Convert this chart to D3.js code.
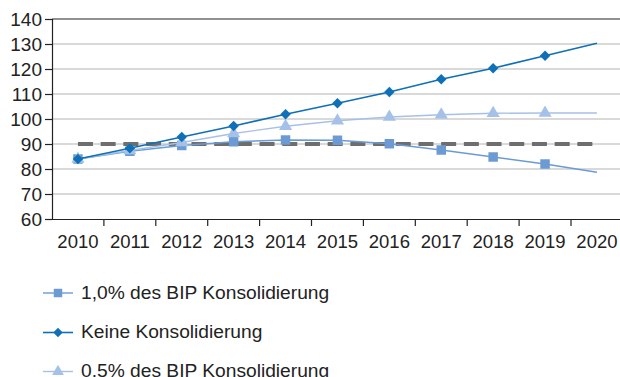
<!DOCTYPE html>
<html>
<head>
<meta charset="utf-8">
<script src="https://cdn.jsdelivr.net/npm/d3@7"></script>
<style>
  html, body { margin: 0; padding: 0; background: #fff; }
  svg { display: block; font-family: "Liberation Sans", Arial, Helvetica, sans-serif; }
</style>
</head>
<body>
<svg id="chart" width="620" height="377"></svg>
<script>
// Schuldenquote in % des BIP, 2010–2020
const years = ["2010","2011","2012","2013","2014","2015","2016","2017","2018","2019","2020"];
const keineKons = [84, 88.3, 92.8, 97.2, 101.9, 106.3, 110.8, 115.9, 120.3, 125.3, 130.3];
const kons10 = [84, 87.1, 89.4, 90.9, 91.6, 91.5, 90.1, 87.6, 84.8, 82.0, 78.7];
const kons05 = [84, 87.4, 90.6, 94.2, 97.1, 99.3, 100.8, 101.7, 102.3, 102.4, 102.4];
const grenze = [90, 90, 90, 90, 90, 90, 90, 90, 90, 90, 90];
const yTicks = [60, 70, 80, 90, 100, 110, 120, 130, 140];
const legendLabels = ["1,0% des BIP Konsolidierung", "Keine Konsolidierung", "0.5% des BIP Konsolidierung"];

const svg = d3.select("#chart");
const plotLeft = 52, plotTop = 19, plotBottom = 219;
const bandW = 51.9;

const x = d3.scaleBand().domain(years).range([plotLeft, plotLeft + bandW * years.length]);
const xc = d => x(d) + x.bandwidth() / 2;
const y = d3.scaleLinear().domain([60, 140]).range([plotBottom, plotTop]);

// Gitterlinien
svg.append("g").selectAll("line").data(yTicks.filter(t => t > 60 && t < 140)).join("line")
  .attr("x1", plotLeft).attr("x2", 620)
  .attr("y1", d => y(d)).attr("y2", d => y(d))
  .attr("stroke", "#b3b3b3").attr("stroke-width", 1);

// obere Rahmenlinie
svg.append("line").attr("x1", plotLeft).attr("x2", 620).attr("y1", y(140)).attr("y2", y(140))
  .attr("stroke", "#222").attr("stroke-width", 1.2);

// y-Achse
const yAxis = d3.axisLeft(y).tickValues(yTicks).tickSize(7).tickPadding(3).tickFormat(d3.format("d"));
const gy = svg.append("g").attr("transform", `translate(${plotLeft},0)`).call(yAxis);
gy.select(".domain").attr("stroke", "#222").attr("stroke-width", 1.2);
gy.selectAll(".tick line").attr("stroke", "#222").attr("stroke-width", 1.2);
gy.selectAll(".tick text").attr("font-size", 19).attr("fill", "#222")
  .attr("font-family", "Liberation Sans, Arial, sans-serif");

// x-Achse
const xAxis = d3.axisBottom(x).tickSize(0).tickPadding(0);
const gx = svg.append("g").attr("transform", `translate(0,${plotBottom})`).call(xAxis);
gx.select(".domain").attr("stroke", "#222").attr("stroke-width", 1.2);
gx.selectAll(".tick text").attr("font-size", 18.5).attr("fill", "#222")
  .attr("font-family", "Liberation Sans, Arial, sans-serif")
  .attr("dy", null).attr("y", 29);
// Teilstriche an den Kategoriegrenzen
gx.append("g").selectAll("line").data(years.slice(1).concat(["end"])).join("line")
  .attr("x1", d => d === "end" ? plotLeft + bandW * years.length : x(d))
  .attr("x2", d => d === "end" ? plotLeft + bandW * years.length : x(d))
  .attr("y1", 0).attr("y2", 7).attr("stroke", "#222").attr("stroke-width", 1.2);

const line = d3.line().x((d, i) => xc(years[i])).y(d => y(d));

// 90%-Grenze
svg.append("path").datum(grenze).attr("d", line)
  .attr("fill", "none").attr("stroke", "#6e6e6e").attr("stroke-width", 4)
  .attr("stroke-dasharray", "15,7.7");

// Raute = um 45° gedrehtes Quadrat
const series = [
  { vals: kons10, color: "#6b9bd2", sw: 1.4, sym: d3.symbolSquare, size: 90, rot: 0 },
  { vals: kons05, color: "#a6c1e8", sw: 1.4, sym: d3.symbolTriangle, size: 75, rot: 0 },
  { vals: keineKons, color: "#0f70b7", sw: 1.6, sym: d3.symbolSquare, size: 55, rot: 45 }
];

series.forEach(s => {
  svg.append("path").datum(s.vals).attr("d", line)
    .attr("fill", "none").attr("stroke", s.color).attr("stroke-width", s.sw);
  svg.append("g").selectAll("path").data(s.vals.slice(0, years.length - 1)).join("path")
    .attr("transform", (d, i) => `translate(${xc(years[i])},${y(d)}) rotate(${s.rot})`)
    .attr("d", d3.symbol().type(s.sym).size(s.size))
    .attr("fill", s.color);
});

// Legende
const legendOrder = [series[0], series[2], series[1]];
const legendY = [293, 332.5, 371.5];
legendOrder.forEach((s, i) => {
  const g = svg.append("g").attr("transform", `translate(0,${legendY[i]})`);
  g.append("line").attr("x1", 43).attr("x2", 73).attr("y1", 0).attr("y2", 0)
    .attr("stroke", s.color).attr("stroke-width", s.sw);
  g.append("path").attr("transform", `translate(58,0) rotate(${s.rot})`)
    .attr("d", d3.symbol().type(s.sym).size(s.size * 0.8)).attr("fill", s.color);
  g.append("text").attr("x", 81).attr("y", 5.5).attr("font-size", 19.2).attr("fill", "#222")
    .text(legendLabels[i]);
});
</script>
</body>
</html>
